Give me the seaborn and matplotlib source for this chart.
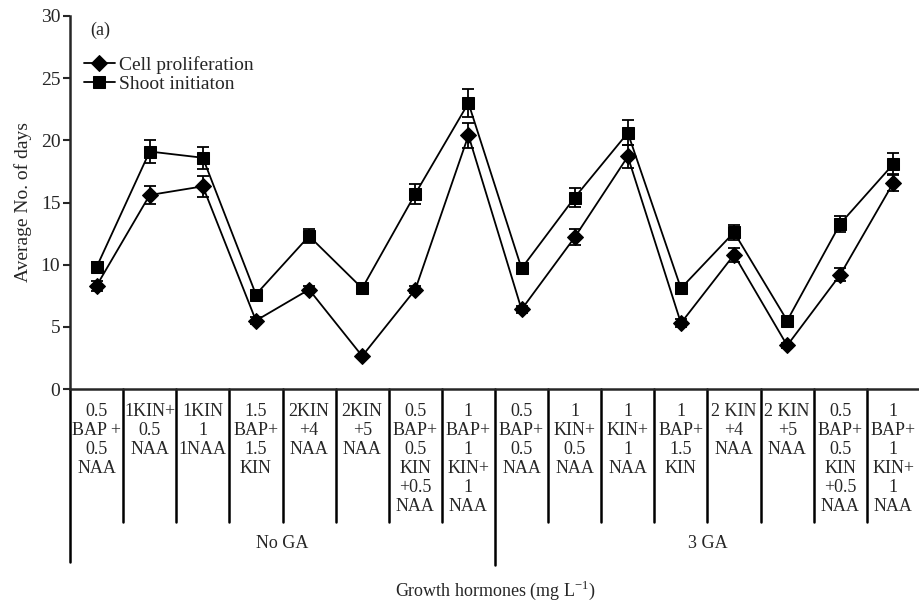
import numpy as np
import pandas as pd
import matplotlib
matplotlib.use('Agg')
import matplotlib.pyplot as plt
import matplotlib.transforms as mtransforms
import seaborn as sns

categories = [
    "0.5\nBAP +\n0.5\nNAA", "1KIN+\n0.5\nNAA", "1KIN\n1\n1NAA", "1.5\nBAP+\n1.5\nKIN",
    "2KIN\n+4\nNAA", "2KIN\n+5\nNAA", "0.5\nBAP+\n0.5\nKIN\n+0.5\nNAA", "1\nBAP+\n1\nKIN+\n1\nNAA",
    "0.5\nBAP+\n0.5\nNAA", "1\nKIN+\n0.5\nNAA", "1\nKIN+\n1\nNAA", "1\nBAP+\n1.5\nKIN",
    "2 KIN\n+4\nNAA", "2 KIN\n+5\nNAA", "0.5\nBAP+\n0.5\nKIN\n+0.5\nNAA", "1\nBAP+\n1\nKIN+\n1\nNAA",
]
groups = ["No GA", "3 GA"]

cell_prolif = [8.3, 15.6, 16.3, 5.5, 8.0, 2.65, 8.0, 20.4, 6.4, 12.2, 18.7, 5.3, 10.8, 3.5, 9.2, 16.6]
cell_err = [0.4, 0.75, 0.85, 0.3, 0.3, 0.1, 0.3, 1.0, 0.3, 0.65, 0.9, 0.3, 0.55, 0.2, 0.55, 0.7]
shoot_init = [9.8, 19.1, 18.6, 7.6, 12.3, 8.1, 15.7, 23.0, 9.7, 15.4, 20.6, 8.1, 12.6, 5.5, 13.3, 18.1]
shoot_err = [0.4, 0.9, 0.9, 0.2, 0.55, 0.1, 0.8, 1.15, 0.2, 0.8, 1.0, 0.2, 0.6, 0.2, 0.65, 0.85]

sns.set_theme(style="ticks")
plt.rcParams['font.family'] = ['Liberation Serif', 'DejaVu Serif']
plt.rcParams['mathtext.fontset'] = 'custom'
plt.rcParams['mathtext.rm'] = 'Liberation Serif'

n = len(categories)
pos = np.arange(n)
df = pd.DataFrame({
    'pos': np.concatenate([pos, pos]),
    'value': cell_prolif + shoot_init,
    'series': ['Cell proliferation'] * n + ['Shoot initiaton'] * n,
})

fig = plt.figure(figsize=(9.2, 6.02), dpi=100)
ax = fig.add_axes([70 / 920, 1 - 389 / 602, 850 / 920, 373 / 602])

sns.lineplot(data=df, x='pos', y='value', style='series', markers={'Cell proliferation': 'D', 'Shoot initiaton': 's'},
             dashes=False, color='black', markersize=8, linewidth=1.3, markeredgecolor='black', ax=ax)
ax.errorbar(pos, cell_prolif, yerr=cell_err, fmt='none', ecolor='black', elinewidth=1.3, capsize=4, capthick=1.3)
ax.errorbar(pos, shoot_init, yerr=shoot_err, fmt='none', ecolor='black', elinewidth=1.3, capsize=4, capthick=1.3)

ax.set_xlim(-0.5, n - 0.5)
ax.set_ylim(0, 30)
ax.set_yticks([0, 5, 10, 15, 20, 25, 30])
ax.set_xticks([])
ax.set_xlabel('')
ax.set_ylabel('Average No. of days', fontsize=14, labelpad=6)
ax.tick_params(axis='y', labelsize=14, length=5, width=1.5, direction='out', pad=2)
for s in ['top', 'right']:
    ax.spines[s].set_visible(False)
for s in ['left', 'bottom']:
    ax.spines[s].set_linewidth(1.8)

leg = ax.legend(loc='upper left', bbox_to_anchor=(0.0, 0.93), frameon=False, fontsize=14,
                handlelength=1.6, handletextpad=0.2, labelspacing=0.1, borderaxespad=0.3)

ax.text(0.024, 0.985, '(a)', transform=ax.transAxes, fontsize=13, va='top', ha='left')

# table under the axis
trans = mtransforms.blended_transform_factory(ax.transData, ax.transAxes)
for i in range(1, n):
    bottom = -0.472 if i == 8 else -0.357
    ax.plot([i - 0.5, i - 0.5], [0, bottom], color='black', lw=1.8, transform=trans, clip_on=False)
ax.plot([-0.5, -0.5], [0, -0.464], color='black', lw=1.8, transform=trans, clip_on=False)

for i, lab in enumerate(categories):
    ax.text(i, -0.038, lab, transform=trans, ha='center', va='top', fontsize=13, linespacing=1.15)

ax.text(3.5, -0.413, groups[0], transform=trans, ha='center', va='center', fontsize=13)
ax.text(11.5, -0.413, groups[1], transform=trans, ha='center', va='center', fontsize=13)

fig.text(495 / 920, 1 - 590 / 602, r'Growth hormones (mg L$^{-1}$)', ha='center', va='center', fontsize=13)

fig.savefig('out.png', dpi=100)
